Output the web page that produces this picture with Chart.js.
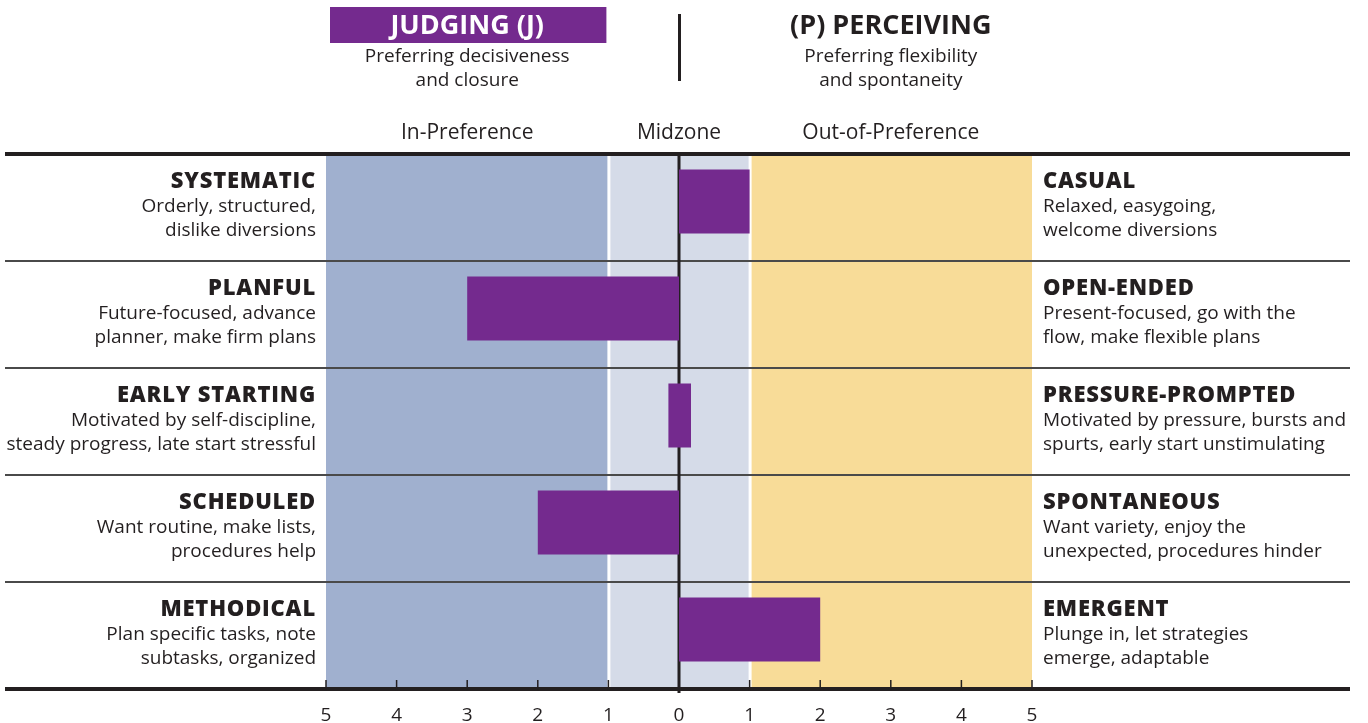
<!DOCTYPE html>
<html>
<head>
<meta charset="utf-8">
<script src="https://cdn.jsdelivr.net/npm/chart.js@4/dist/chart.umd.min.js"></script>
<style>
  html, body { margin: 0; padding: 0; background: #fff; }
  #wrap { width: 1368px; height: 723px; position: relative; }
</style>
</head>
<body>
<div id="wrap"><canvas id="chart"></canvas></div>
<script>
// Data
const leftTitles = ['SYSTEMATIC', 'PLANFUL', 'EARLY STARTING', 'SCHEDULED', 'METHODICAL'];
const leftDescs = [
    ['Orderly, structured,', 'dislike diversions'],
    ['Future-focused, advance', 'planner, make firm plans'],
    ['Motivated by self-discipline,', 'steady progress, late start stressful'],
    ['Want routine, make lists,', 'procedures help'],
    ['Plan specific tasks, note', 'subtasks, organized']
];
const rightTitles = ['CASUAL', 'OPEN-ENDED', 'PRESSURE-PROMPTED', 'SPONTANEOUS', 'EMERGENT'];
const rightDescs = [
    ['Relaxed, easygoing,', 'welcome diversions'],
    ['Present-focused, go with the', 'flow, make flexible plans'],
    ['Motivated by pressure, bursts and', 'spurts, early start unstimulating'],
    ['Want variety, enjoy the', 'unexpected, procedures hinder'],
    ['Plunge in, let strategies', 'emerge, adaptable']
];
const barStart = [0, -3, -0.15, -2, 0];
const barEnd = [1, 0, 0.17, 0, 2];
const tickValues = [-5, -4, -3, -2, -1, 0, 1, 2, 3, 4, 5];
const zoneNames = ['In-Preference', 'Midzone', 'Out-of-Preference'];
const zoneEdges = [-5, -1, 1, 5];

const INK = '#231f20';
const PURPLE = '#742a8e';
const zoneColors = ['#a0b0cf', '#d5dbe8', '#f8dc98'];
const FONT = '"Open Sans", "Noto Sans", sans-serif';
// bars sit a little above the middle of each row, so rows are drawn shifted down
const ROW_SHIFT = 6;

const backdrop = {
    id: 'backdrop',
    beforeDatasetsDraw(chart) {
        const { ctx, chartArea: a, scales: { x } } = chart;
        const top = a.top + ROW_SHIFT, bottom = a.bottom + ROW_SHIFT;
        ctx.save();
        // zone bands
        for (let i = 0; i < 3; i++) {
            const x0 = x.getPixelForValue(zoneEdges[i]);
            const x1 = x.getPixelForValue(zoneEdges[i + 1]);
            ctx.fillStyle = zoneColors[i];
            ctx.fillRect(x0, top, x1 - x0, bottom - top);
        }
        // white gaps at +-1
        ctx.fillStyle = '#fff';
        [-1, 1].forEach(v => {
            ctx.fillRect(x.getPixelForValue(v) - 1, top, 3, bottom - top);
        });
        // row separators
        const n = leftTitles.length;
        const rowH = (bottom - top) / n;
        ctx.strokeStyle = '#4a4a4a';
        ctx.lineWidth = 2;
        for (let i = 1; i < n; i++) {
            const yy = Math.round(top + rowH * i);
            ctx.beginPath();
            ctx.moveTo(5, yy);
            ctx.lineTo(1350, yy);
            ctx.stroke();
        }
        // zero line
        const zx = x.getPixelForValue(0);
        ctx.strokeStyle = INK;
        ctx.lineWidth = 3;
        ctx.beginPath();
        ctx.moveTo(zx, top);
        ctx.lineTo(zx, bottom + 4);
        ctx.stroke();
        ctx.restore();
    },
    afterDatasetsDraw(chart) {
        const { ctx, chartArea: a, scales: { x } } = chart;
        const top = a.top + ROW_SHIFT, bottom = a.bottom + ROW_SHIFT;
        ctx.save();
        // top and bottom rules
        ctx.fillStyle = INK;
        ctx.fillRect(5, top - 2, 1345, 4);
        ctx.fillRect(5, bottom - 2, 1345, 4);
        // tick marks above bottom rule
        ctx.lineWidth = 1.5;
        ctx.strokeStyle = INK;
        tickValues.forEach(v => {
            const tx = x.getPixelForValue(v);
            ctx.beginPath();
            ctx.moveTo(tx, bottom - 9);
            ctx.lineTo(tx, bottom + 2);
            ctx.stroke();
        });

        // row labels
        const n = leftTitles.length;
        const rowH = (bottom - top) / n;
        for (let i = 0; i < n; i++) {
            const rt = top + rowH * i;
            ctx.fillStyle = INK;
            ctx.textBaseline = 'middle';
            ctx.font = '800 22px ' + FONT;
            ctx.letterSpacing = '0.8px';
            ctx.textAlign = 'right';
            ctx.fillText(leftTitles[i], a.left - 10, rt + 28);
            ctx.textAlign = 'left';
            ctx.fillText(rightTitles[i], a.right + 11, rt + 28);
            ctx.letterSpacing = '0px';
            ctx.font = '19px ' + FONT;
            ctx.textAlign = 'right';
            leftDescs[i].forEach((t, j) => ctx.fillText(t, a.left - 10, rt + 53 + j * 24));
            ctx.textAlign = 'left';
            rightDescs[i].forEach((t, j) => ctx.fillText(t, a.right + 11, rt + 53 + j * 24));
        }

        // zone names
        ctx.textAlign = 'center';
        ctx.font = '21px ' + FONT;
        for (let i = 0; i < 3; i++) {
            const cx = (x.getPixelForValue(zoneEdges[i]) + x.getPixelForValue(zoneEdges[i + 1])) / 2;
            ctx.fillText(zoneNames[i], cx, 133);
        }

        // header
        const jx = x.getPixelForValue(-3);
        const px = x.getPixelForValue(3);
        ctx.fillStyle = PURPLE;
        ctx.fillRect(x.getPixelForValue(-5) + 4, 7, x.getPixelForValue(-1) - x.getPixelForValue(-5) - 6, 36);
        ctx.font = 'bold 27px ' + FONT;
        ctx.fillStyle = '#fff';
        ctx.fillText('JUDGING (J)', jx, 26);
        ctx.fillStyle = INK;
        ctx.fillText('(P) PERCEIVING', px, 26);
        ctx.font = '19px ' + FONT;
        ctx.fillText('Preferring decisiveness', jx, 57);
        ctx.fillText('and closure', jx, 81);
        ctx.fillText('Preferring flexibility', px, 57);
        ctx.fillText('and spontaneity', px, 81);
        ctx.fillRect(x.getPixelForValue(0) - 1, 14, 3, 67);
        ctx.restore();
    }
};

new Chart(document.getElementById('chart'), {
    type: 'bar',
    data: {
        labels: leftTitles,
        datasets: [{
            data: barStart.map((s, i) => [s, barEnd[i]]),
            backgroundColor: PURPLE,
            borderWidth: 0,
            barPercentage: 0.6,
            categoryPercentage: 1
        }]
    },
    options: {
        indexAxis: 'y',
        responsive: true,
        maintainAspectRatio: false,
        animation: false,
        layout: { padding: { left: 326, right: 336, top: 148, bottom: 0 } },
        plugins: { legend: { display: false }, tooltip: { enabled: false } },
        scales: {
            x: {
                type: 'linear',
                min: -5,
                max: 5,
                afterBuildTicks: s => { s.ticks = tickValues.map(v => ({ value: v })); },
                afterFit: s => { s.height = 40; },
                grid: { display: false, drawTicks: false },
                border: { display: false },
                ticks: {
                    callback: v => Math.abs(v),
                    color: INK,
                    font: { family: FONT, size: 19 },
                    padding: 21,
                    maxRotation: 0
                }
            },
            y: { display: false }
        }
    },
    plugins: [backdrop]
});
</script>
</body>
</html>
